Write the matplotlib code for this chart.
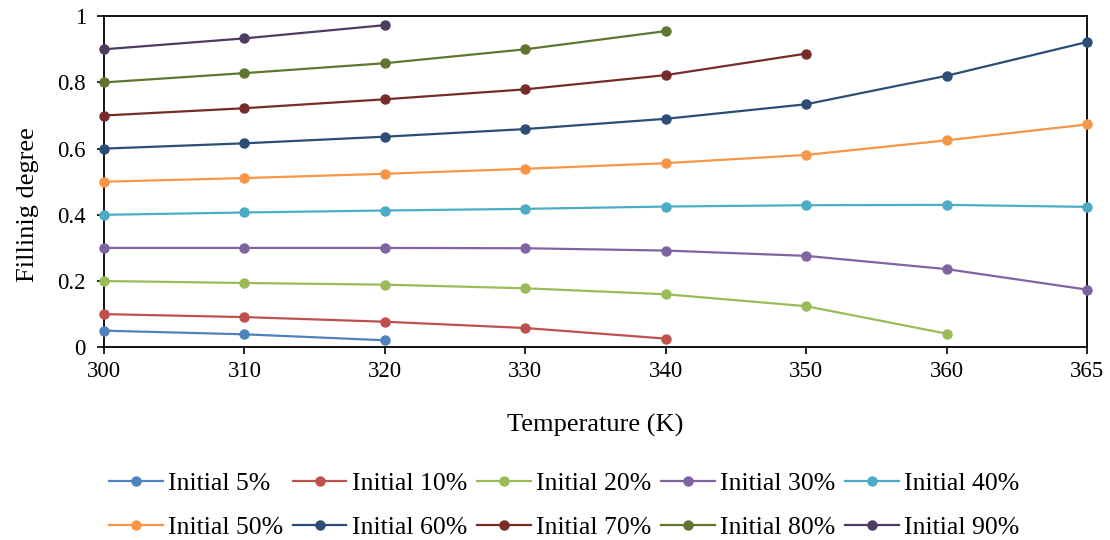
import numpy as np
import matplotlib.pyplot as plt

plt.rcParams['font.family'] = ['Liberation Serif', 'DejaVu Serif']

temperatures = ["300", "310", "320", "330", "340", "350", "360", "365"]

initial_5 = [0.050, 0.039, 0.021]
initial_10 = [0.100, 0.091, 0.077, 0.058, 0.026]
initial_20 = [0.200, 0.194, 0.189, 0.178, 0.160, 0.124, 0.041]
initial_30 = [0.300, 0.300, 0.300, 0.299, 0.292, 0.276, 0.236, 0.174]
initial_40 = [0.400, 0.407, 0.413, 0.418, 0.425, 0.429, 0.430, 0.424]
initial_50 = [0.500, 0.511, 0.524, 0.539, 0.556, 0.581, 0.625, 0.673]
initial_60 = [0.600, 0.616, 0.636, 0.659, 0.690, 0.734, 0.820, 0.922]
initial_70 = [0.700, 0.722, 0.749, 0.779, 0.822, 0.887]
initial_80 = [0.800, 0.828, 0.858, 0.900, 0.955]
initial_90 = [0.900, 0.933, 0.973]

labels = ["Initial 5%", "Initial 10%", "Initial 20%", "Initial 30%", "Initial 40%",
          "Initial 50%", "Initial 60%", "Initial 70%", "Initial 80%", "Initial 90%"]
series = [initial_5, initial_10, initial_20, initial_30, initial_40,
          initial_50, initial_60, initial_70, initial_80, initial_90]
colors = ["#4F81BD", "#C0504D", "#9BBB59", "#8064A2", "#4BACC6",
          "#F79646", "#2C4D75", "#772C2A", "#5F7530", "#4D3B62"]

fig = plt.figure(figsize=(11.1, 5.4), dpi=100)
ax = fig.add_axes([0.0937, 0.357, 0.8856, 0.613])

lines = []
for values, label, color in zip(series, labels, colors):
    x = np.arange(len(values))
    line, = ax.plot(x, values, color=color, linewidth=1.6, marker="o", markersize=6.5,
                    label=label, clip_on=False, zorder=3)
    lines.append(line)

ax.set_xlim(0, len(temperatures) - 1)
ax.set_ylim(0, 1)
ax.set_xticks(np.arange(len(temperatures)))
ax.set_xticklabels(temperatures)
ax.set_yticks([0, 0.2, 0.4, 0.6, 0.8, 1])
ax.set_yticklabels(["0", "0.2", "0.4", "0.6", "0.8", "1"])
ax.tick_params(axis="both", direction="out", length=5, width=1.2, labelsize=16.5)
ax.tick_params(axis="x", pad=5)
ax.tick_params(axis="y", pad=8)

for spine in ax.spines.values():
    spine.set_linewidth(1.3)
    spine.set_color("black")

ax.set_xlabel("Temperature (K)", fontsize=19)
ax.xaxis.set_label_coords(0.5, -0.20)
ax.set_ylabel("Fillinig degree", fontsize=19)
ax.yaxis.set_label_coords(-0.066, 0.432)

# legend filled row by row (matplotlib fills column-major)
order = [0, 5, 1, 6, 2, 7, 3, 8, 4, 9]
fig.legend([lines[i] for i in order], [labels[i] for i in order],
           loc="center", bbox_to_anchor=(0.508, 0.064), ncol=5,
           fontsize=18.5, frameon=False, handlelength=2.1, handletextpad=0.2,
           columnspacing=0.38, labelspacing=0.83, borderpad=0)

fig.savefig("out.png", dpi=100)
